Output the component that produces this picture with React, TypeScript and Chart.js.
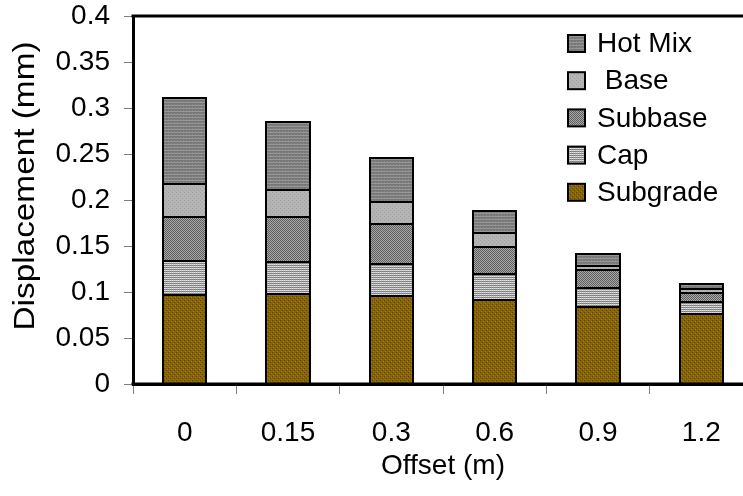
import React, { useEffect, useRef } from "react";
import { Chart, registerables } from "chart.js";

Chart.register(...registerables);

// Offsets from the load centre (m)
const offsets = ["0", "0.15", "0.3", "0.6", "0.9", "1.2"];

// Displacement contributed by each pavement layer (mm)
const subgrade = [0.097, 0.098, 0.096, 0.091, 0.084, 0.076];
const cap = [0.037, 0.035, 0.034, 0.029, 0.02, 0.013];
const subbase = [0.048, 0.048, 0.044, 0.029, 0.02, 0.01];
const base = [0.035, 0.03, 0.024, 0.015, 0.004, 0.004];
const hotMix = [0.094, 0.074, 0.048, 0.024, 0.013, 0.006];

const layerLabels = ["Subgrade", "Cap", "Subbase", " Base", "Hot Mix"];

const yMin = 0;
const yMax = 0.4;
const yStep = 0.05;

const yTitle = "Displacement (mm)";
const xTitle = "Offset (m)";

const FONT = '"Liberation Sans", Arial, Helvetica, sans-serif';
const FONT_SIZE = 28;

type Px = [number, number, string];

// Small repeating texture tile, used as a fill pattern
function makePattern(w: number, h: number, bg: string, pixels: Px[]): CanvasPattern | string {
  const c = document.createElement("canvas");
  c.width = w;
  c.height = h;
  const g = c.getContext("2d");
  if (!g) return bg;
  g.fillStyle = bg;
  g.fillRect(0, 0, w, h);
  for (const [x, y, col] of pixels) {
    g.fillStyle = col;
    g.fillRect(x, y, 1, 1);
  }
  return g.createPattern(c, "repeat") || bg;
}

function buildFills() {
  const subgradeFill = makePattern(4, 4, "#876600", [
    [0, 0, "#5a4400"],
    [2, 2, "#5a4400"],
    [1, 3, "#9c7c12"],
    [3, 1, "#9c7c12"],
  ]);
  const capFill = makePattern(4, 2, "#e4e4e4", [
    [1, 0, "#c6c6c6"],
    [3, 0, "#c6c6c6"],
    [0, 1, "#7a7a7a"],
    [1, 1, "#8e8e8e"],
    [2, 1, "#7a7a7a"],
    [3, 1, "#8e8e8e"],
  ]);
  const subbaseFill = makePattern(2, 2, "#5e5e5e", [
    [1, 0, "#a8a8a8"],
    [0, 1, "#a8a8a8"],
  ]);
  const baseFill = makePattern(4, 4, "#b4b4b4", [
    [0, 0, "#a0a0a0"],
    [2, 2, "#a0a0a0"],
  ]);
  const hotMixFill = makePattern(3, 3, "#777777", [
    [0, 0, "#979797"],
    [1, 0, "#979797"],
    [2, 0, "#979797"],
    [0, 2, "#8a8a8a"],
  ]);
  return [subgradeFill, capFill, subbaseFill, baseFill, hotMixFill];
}

// Even 2px outline around every stacked layer segment
const layerOutlines = {
  id: "layerOutlines",
  afterDatasetsDraw(chart: any) {
    const { ctx } = chart;
    ctx.save();
    ctx.strokeStyle = "#000";
    ctx.lineWidth = 2;
    chart.data.datasets.forEach((_d: any, di: number) => {
      const meta = chart.getDatasetMeta(di);
      meta.data.forEach((bar: any) => {
        const { x, y, base, width } = bar.getProps(["x", "y", "base", "width"], true);
        const left = Math.round(x - width / 2);
        const right = Math.round(x + width / 2);
        const top = Math.round(Math.min(y, base));
        const bottom = Math.round(Math.max(y, base));
        ctx.strokeRect(left, top, right - left, bottom - top);
      });
    });
    ctx.restore();
  },
};

// Box around the plotting area (top and right edges; left and bottom come from the axes)
const frameLine = {
  id: "frameLine",
  afterDatasetsDraw(chart: any) {
    const { ctx, chartArea } = chart;
    ctx.save();
    ctx.strokeStyle = "#000";
    ctx.lineWidth = 3;
    ctx.beginPath();
    ctx.moveTo(chartArea.left - 1.5, chartArea.top);
    ctx.lineTo(chartArea.right, chartArea.top);
    ctx.lineTo(chartArea.right, chartArea.bottom);
    ctx.stroke();
    ctx.beginPath();
    ctx.moveTo(chartArea.left - 1.5, chartArea.bottom);
    ctx.lineTo(chartArea.right, chartArea.bottom);
    ctx.stroke();
    ctx.restore();
  },
};

// Vertical axis title, drawn slightly stretched along its length
const yAxisTitle = {
  id: "yAxisTitle",
  afterDraw(chart: any) {
    const { ctx } = chart;
    ctx.save();
    ctx.translate(26, 186);
    ctx.rotate(-Math.PI / 2);
    ctx.scale(1.15, 1);
    ctx.font = `29px ${FONT}`;
    ctx.fillStyle = "#000";
    ctx.textAlign = "center";
    ctx.textBaseline = "middle";
    ctx.fillText(yTitle, 0, 0);
    ctx.restore();
  },
};

// Legend drawn inside the plot, top layer first
const insideLegend = {
  id: "insideLegend",
  afterDraw(chart: any) {
    const { ctx } = chart;
    const ds = chart.data.datasets;
    const boxX = 568;
    const textX = 597;
    const firstY = 43.5;
    const rowGap = 37.2;
    const box = 17;
    ctx.save();
    ctx.font = `${FONT_SIZE}px ${FONT}`;
    ctx.textBaseline = "middle";
    ctx.textAlign = "left";
    for (let i = 0; i < ds.length; i++) {
      const d = ds[ds.length - 1 - i];
      const cy = firstY + i * rowGap;
      ctx.fillStyle = d.backgroundColor;
      ctx.fillRect(boxX, cy - box / 2, box, box);
      ctx.strokeStyle = "#000";
      ctx.lineWidth = 2;
      ctx.strokeRect(boxX, cy - box / 2, box, box);
      ctx.fillStyle = "#000";
      ctx.fillText(d.label, textX, cy + 1);
    }
    ctx.restore();
  },
};

export default function App() {
  const canvasRef = useRef<HTMLCanvasElement | null>(null);

  useEffect(() => {
    const canvas = canvasRef.current;
    if (!canvas) return;
    const fills = buildFills();
    const series = [subgrade, cap, subbase, base, hotMix];

    const chart = new Chart(canvas, {
      type: "bar",
      data: {
        labels: offsets,
        datasets: series.map((values, i) => ({
          label: layerLabels[i],
          data: values,
          backgroundColor: fills[i] as any,
          borderWidth: 0,
          inflateAmount: 0,
          categoryPercentage: 1,
          barPercentage: 0.42,
        })),
      },
      options: {
        animation: false,
        responsive: false,
        devicePixelRatio: 1,
        layout: { padding: { top: 16, right: 3, bottom: 0, left: 0 } },
        plugins: {
          legend: { display: false },
          tooltip: { enabled: false },
        },
        scales: {
          x: {
            stacked: true,
            offset: true,
            afterFit(scale: any) {
              scale.height = 112;
              scale.paddingLeft = 0;
              scale.paddingRight = 0;
            },
            grid: {
              offset: true,
              drawOnChartArea: false,
              drawTicks: true,
              tickLength: 10,
              color: "#808080",
              lineWidth: 1,
            },
            border: { display: true, color: "#000", width: 3 },
            ticks: {
              color: "#000",
              padding: 22,
              font: { family: FONT, size: FONT_SIZE },
              maxRotation: 0,
              autoSkip: false,
            },
            title: {
              display: true,
              text: xTitle,
              color: "#000",
              font: { family: FONT, size: FONT_SIZE },
              padding: { top: 0, bottom: 13 },
            },
          },
          y: {
            stacked: true,
            min: yMin,
            max: yMax,
            afterFit(scale: any) {
              scale.width = 133;
              scale.paddingTop = 0;
              scale.paddingBottom = 0;
            },
            grid: {
              drawOnChartArea: false,
              drawTicks: true,
              tickLength: 9,
              color: "#808080",
              lineWidth: 1,
            },
            border: { display: true, color: "#000", width: 3 },
            ticks: {
              stepSize: yStep,
              color: "#000",
              padding: 14,
              font: { family: FONT, size: FONT_SIZE },
              callback: (v: any) => String(Number(Number(v).toFixed(2))),
            },
          },
        },
      },
      plugins: [layerOutlines, frameLine, yAxisTitle, insideLegend],
    });

    return () => {
      chart.destroy();
    };
  }, []);

  return (
    <div
      style={{
        position: "fixed",
        left: 0,
        top: 0,
        width: 743,
        height: 496,
        overflow: "hidden",
        background: "#fff",
      }}
    >
      <canvas ref={canvasRef} width={756} height={496} style={{ display: "block", width: 756, height: 496 }} />
    </div>
  );
}
